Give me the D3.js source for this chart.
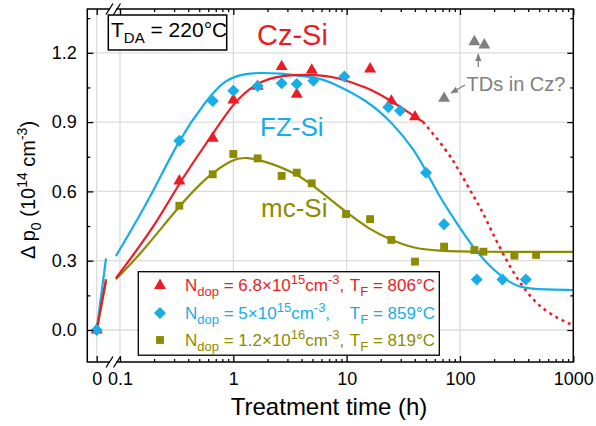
<!DOCTYPE html>
<html><head><meta charset="utf-8">
<script src="https://cdn.jsdelivr.net/npm/d3@7"></script>
<style>body{margin:0;background:#fff}svg{display:block;font-family:Arial,"Liberation Sans",sans-serif}</style>
</head><body><svg id="c" width="596" height="426"></svg>
<script>
// ---------- data ----------
const czTime  = [0, 0.334, 0.658, 1.0, 1.64, 2.67, 3.63, 4.92, 16.1, 24.8, 40.1];
const czValue = [0, 0.645, 0.83, 0.996, 1.055, 1.14, 1.02, 1.125, 1.13, 0.991, 0.923];
const fzTime  = [0, 0.334, 0.658, 1.0, 1.64, 2.67, 3.63, 5.08, 9.55, 23.3, 29.6, 50.2, 72.4, 140.7, 237, 381];
const fzValue = [0, 0.819, 0.991, 1.036, 1.056, 1.068, 1.065, 1.079, 1.097, 0.964, 0.949, 0.681, 0.458, 0.219, 0.219, 0.219];
const mcTime  = [0.334, 0.658, 1.0, 1.64, 2.67, 3.63, 4.92, 9.88, 16.1, 24.8, 40.1, 72.4, 134, 161, 302, 470];
const mcValue = [0.538, 0.674, 0.762, 0.743, 0.667, 0.681, 0.635, 0.502, 0.48, 0.39, 0.296, 0.361, 0.346, 0.339, 0.322, 0.325];
const tdTime  = [72.4, 134, 164];
const tdValue = [1.003, 1.248, 1.234];

// fitted curves
const fzFitT = [0.092, 0.184, 0.334, 0.582, 0.81, 1.15, 1.72, 2.58, 3.87, 5.8, 7.6, 15, 25.6, 39.6, 50, 66.9, 87, 131, 195, 293, 390, 1000];
const fzFitV = [0.32, 0.57, 0.83, 0.996, 1.075, 1.108, 1.114, 1.111, 1.10, 1.09, 1.068, 0.996, 0.896, 0.779, 0.69, 0.573, 0.487, 0.355, 0.26, 0.195, 0.177, 0.173];
const czFitT = [0.092, 0.21, 0.334, 0.663, 1.02, 1.6, 2.58, 5.8, 7.63, 15, 25.6, 40.1, 47];
const czFitV = [0.224, 0.46, 0.64, 0.85, 0.99, 1.07, 1.105, 1.105, 1.097, 1.053, 0.988, 0.923, 0.902];
const czExtT = [47, 76.4, 99.8, 131, 156, 227, 364, 570, 1000];
const czExtV = [0.902, 0.779, 0.685, 0.58, 0.52, 0.346, 0.173, 0.075, 0.02];
const mcFitT = [0.092, 0.15, 0.334, 0.582, 1.0, 1.31, 1.97, 3.63, 5.8, 9.37, 16.1, 24.8, 38.6, 62, 150, 1000];
const mcFitV = [0.22, 0.325, 0.538, 0.664, 0.743, 0.748, 0.729, 0.678, 0.603, 0.519, 0.433, 0.39, 0.354, 0.342, 0.338, 0.338];
// short segments left of the axis break
const breakT  = [0, 0.01];
const fzBreakV = [0, 0.31];
const czBreakV = [0, 0.22];
const mcBreakV = [0, 0.21];

const xMajor = [0.1, 1, 10, 100, 1000];
const yMajor = [0, 0.3, 0.6, 0.9, 1.2];
const yMinor = [0.15, 0.45, 0.75, 1.05, 1.35];

// ---------- setup ----------
const RED = "#ed1c24", BLUE = "#17ade8", OLIVE = "#8d8b00", GRAY = "#808080";
const L = 87.3, R = 573.3, T = 9, B = 362;
const svg = d3.select("#c");
const x = d3.scaleLog().domain([0.1, 1000]).range([120, 573.3]);
const x0 = d3.scaleLinear().domain([0, 0.01]).range([96.7, 106]);
const y = d3.scaleLinear().domain([0, 1.2]).range([330, 52.8]);
const px = t => t === 0 ? x0(0) : x(t);
const xMinor = [];
[0.1, 1, 10, 100].forEach(d => { for (let k = 2; k <= 9; k++) xMinor.push(d * k); });

// grid
const grid = svg.append("g").attr("stroke", "#dcdcdc").attr("stroke-width", 1.3);
[x0(0), x(0.1), x(1), x(10), x(100)].forEach(v =>
  grid.append("line").attr("x1", v).attr("x2", v).attr("y1", T).attr("y2", B));
yMajor.forEach(v =>
  grid.append("line").attr("x1", L).attr("x2", R).attr("y1", y(v)).attr("y2", y(v)));

// ---------- curves ----------
const zip = (a, b) => a.map((d, i) => [d, b[i]]);
const line = d3.line().x(d => x(d[0])).y(d => y(d[1])).curve(d3.curveBasis);
const line0 = d3.line().x(d => x0(d[0])).y(d => y(d[1]));
const curves = svg.append("g").attr("fill", "none").attr("stroke-width", 2.2);
curves.append("path").attr("d", line0(zip(breakT, mcBreakV))).attr("stroke", OLIVE);
curves.append("path").attr("d", line(zip(mcFitT, mcFitV))).attr("stroke", OLIVE);
curves.append("path").attr("d", line0(zip(breakT, fzBreakV))).attr("stroke", BLUE);
curves.append("path").attr("d", line(zip(fzFitT, fzFitV))).attr("stroke", BLUE);
curves.append("path").attr("d", line0(zip(breakT, czBreakV))).attr("stroke", RED);
curves.append("path").attr("d", line(zip(czFitT, czFitV))).attr("stroke", RED);
curves.append("path").attr("d", line(zip(czExtT, czExtV))).attr("stroke", RED)
  .attr("stroke-dasharray", "3,4").attr("stroke-width", 2.5);

// ---------- markers ----------
const tri = d3.symbol(d3.symbolTriangle, 62)();
const sq = d3.symbol(d3.symbolSquare, 62)();
const dia = d3.symbol(d3.symbolSquare, 72)();
const mk = svg.append("g");
mk.selectAll(".mc").data(zip(mcTime, mcValue)).join("path").attr("d", sq).attr("fill", OLIVE)
  .attr("transform", d => `translate(${px(d[0])},${y(d[1])})`);
mk.selectAll(".td").data(zip(tdTime, tdValue)).join("path").attr("d", tri).attr("fill", GRAY)
  .attr("transform", d => `translate(${px(d[0])},${y(d[1])})`);
mk.selectAll(".cz").data(zip(czTime, czValue)).join("path").attr("d", tri).attr("fill", RED)
  .attr("transform", d => `translate(${px(d[0])},${y(d[1])})`);
mk.selectAll(".fz").data(zip(fzTime, fzValue)).join("path").attr("d", dia).attr("fill", BLUE)
  .attr("transform", d => `translate(${px(d[0])},${y(d[1])}) rotate(45)`);

// ---------- axes ----------
function styleAxis(g) { g.select(".domain").remove(); g.selectAll("line").attr("stroke", "#000").attr("stroke-width", 1.3); g.selectAll("text").attr("font-size", 18).attr("fill", "#000").attr("font-family", "Arial,'Liberation Sans',sans-serif"); }
const fmtX = d => d === 0.1 ? "0.1" : d3.format("d")(d);
svg.append("g").attr("transform", `translate(0,${B})`)
  .call(d3.axisBottom(x).tickValues(xMajor).tickSize(-6).tickPadding(10).tickFormat(fmtX)).call(styleAxis);
svg.append("g").attr("transform", `translate(0,${B})`)
  .call(d3.axisBottom(x0).tickValues([0]).tickSize(-6).tickPadding(10).tickFormat(d3.format("d"))).call(styleAxis);
svg.append("g").attr("transform", `translate(0,${B})`)
  .call(d3.axisBottom(x).tickValues(xMinor).tickSize(-3).tickFormat("")).call(styleAxis);
svg.append("g").attr("transform", `translate(0,${T})`)
  .call(d3.axisTop(x).tickValues(xMajor).tickSize(-6).tickFormat("")).call(styleAxis);
svg.append("g").attr("transform", `translate(0,${T})`)
  .call(d3.axisTop(x0).tickValues([0]).tickSize(-6).tickFormat("")).call(styleAxis);
svg.append("g").attr("transform", `translate(0,${T})`)
  .call(d3.axisTop(x).tickValues(xMinor).tickSize(-3).tickFormat("")).call(styleAxis);
svg.append("g").attr("transform", `translate(${L},0)`)
  .call(d3.axisLeft(y).tickValues(yMajor).tickSize(-6).tickPadding(10.5).tickFormat(d3.format(".1f"))).call(styleAxis);
svg.append("g").attr("transform", `translate(${L},0)`)
  .call(d3.axisLeft(y).tickValues(yMinor).tickSize(-3).tickFormat("")).call(styleAxis);
svg.append("g").attr("transform", `translate(${R},0)`)
  .call(d3.axisRight(y).tickValues(yMajor).tickSize(-6).tickFormat("")).call(styleAxis);
svg.append("g").attr("transform", `translate(${R},0)`)
  .call(d3.axisRight(y).tickValues(yMinor).tickSize(-3).tickFormat("")).call(styleAxis);

// frame
svg.append("rect").attr("x", L).attr("y", T).attr("width", R - L).attr("height", B - T)
  .attr("fill", "none").attr("stroke", "#000").attr("stroke-width", 1.5);
// axis breaks
[T, B].forEach(yy => {
  svg.append("rect").attr("x", 110).attr("y", yy - 2).attr("width", 6).attr("height", 4).attr("fill", "#fff");
  [109.5, 117].forEach(cx =>
    svg.append("line").attr("x1", cx - 3.5).attr("y1", yy + 5.5).attr("x2", cx + 3.5).attr("y2", yy - 5.5)
      .attr("stroke", "#000").attr("stroke-width", 1.3));
});

// ---------- text helpers ----------
function rich(g, xx, yy, parts, size, fill, anchor, ratio) {
  const t = g.append("text").attr("x", xx).attr("y", yy).attr("font-size", size).attr("fill", fill)
    .attr("text-anchor", anchor || "start");
  const small = Math.round(size * (ratio || 0.7));
  let shift = 0;
  parts.forEach(p => {
    const [s, k] = p;
    const ts = t.append("tspan").text(s);
    let dy = -shift;
    if (k === "sub") { ts.attr("font-size", small); shift = size * 0.28; }
    else if (k === "sup") { ts.attr("font-size", small); shift = -size * 0.42; }
    else shift = 0;
    dy += shift;
    if (Math.abs(dy) > 0.01) ts.attr("dy", dy);
  });
  return t;
}

// T_DA box
svg.append("rect").attr("x", 108.3).attr("y", 15).attr("width", 118.4).attr("height", 35)
  .attr("fill", "#fff").attr("stroke", "#000").attr("stroke-width", 1.5);
rich(svg, 111, 37, [["T"], ["DA", "sub"], [" = 220°C"]], 21, "#000");

// series labels
svg.append("text").attr("x", 257).attr("y", 45).attr("font-size", 29).attr("fill", RED).text("Cz-Si");
svg.append("text").attr("x", 260).attr("y", 136).attr("font-size", 26).attr("fill", BLUE).text("FZ-Si");
svg.append("text").attr("x", 261).attr("y", 217).attr("font-size", 26).attr("fill", OLIVE).text("mc-Si");

// TDs annotation
const defs = svg.append("defs");
defs.append("marker").attr("id", "ah").attr("viewBox", "0 0 10 10").attr("refX", 9).attr("refY", 5)
  .attr("markerWidth", 6).attr("markerHeight", 6).attr("orient", "auto-start-reverse")
  .append("path").attr("d", "M0,1 L10,5 L0,9 Z").attr("fill", GRAY);
svg.append("line").attr("x1", 465).attr("y1", 85).attr("x2", 451).attr("y2", 93)
  .attr("stroke", GRAY).attr("stroke-width", 1.3).attr("marker-end", "url(#ah)");
svg.append("line").attr("x1", 478.3).attr("y1", 67).attr("x2", 478.3).attr("y2", 54)
  .attr("stroke", GRAY).attr("stroke-width", 1.3).attr("marker-end", "url(#ah)");
svg.append("text").attr("x", 466.5).attr("y", 91).attr("font-size", 20).attr("fill", GRAY).text("TDs in Cz?");

// legend
const lg = svg.append("g");
lg.append("rect").attr("x", 138.3).attr("y", 271.7).attr("width", 301).attr("height", 83.5)
  .attr("fill", "#fff").attr("stroke", "#000").attr("stroke-width", 1.3);
lg.append("path").attr("d", tri).attr("fill", RED).attr("transform", "translate(160,285.5)");
lg.append("path").attr("d", dia).attr("fill", BLUE).attr("transform", "translate(160,313) rotate(45)");
lg.append("path").attr("d", sq).attr("fill", OLIVE).attr("transform", "translate(160,340)");
const legRows = [
  { c: RED, y: 291, a: [["N"], ["dop", "sub"], [" = 6.8×10"], ["15", "sup"], ["cm"], ["-3", "sup"], [","]], tf: " = 806°C" },
  { c: BLUE, y: 319, a: [["N"], ["dop", "sub"], [" = 5×10"], ["15", "sup"], ["cm"], ["-3", "sup"], [","]], tf: " = 859°C" },
  { c: OLIVE, y: 346, a: [["N"], ["dop", "sub"], [" = 1.2×10"], ["16", "sup"], ["cm"], ["-3", "sup"], [","]], tf: " = 819°C" }
];
legRows.forEach(r => {
  rich(lg, 185, r.y, r.a, 17, r.c, "start", 0.78);
  rich(lg, 435, r.y, [["T"], ["F", "sub"], [r.tf]], 17, r.c, "end", 0.78);
});

// axis titles
svg.append("text").attr("x", 329).attr("y", 415).attr("text-anchor", "middle").attr("font-size", 24)
  .attr("fill", "#000").text("Treatment time (h)");
const yl = rich(svg, 0, 0, [["\u0394 p"], ["0", "sub"], [" (10"], ["14", "sup"], [" cm"], ["-3", "sup"], [")"]], 20, "#000", "middle");
yl.attr("transform", "translate(35,190) rotate(-90)");
</script></body></html>
